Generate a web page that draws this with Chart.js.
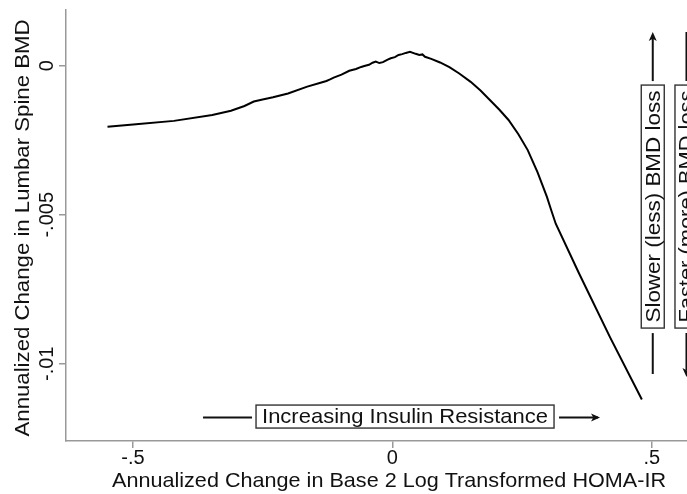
<!DOCTYPE html>
<html><head><meta charset="utf-8">
<script src="https://cdn.jsdelivr.net/npm/chart.js@4"></script>
<style>html,body{margin:0;padding:0;background:#fff}#wrap{width:687px;height:494px}</style>
</head><body><div id="wrap"><canvas id="c" width="687" height="494"></canvas></div>
<script>
const xValues = [-0.549,-0.494,-0.421,-0.347,-0.311,-0.285,-0.267,-0.250,-0.230,-0.201,-0.164,-0.140,-0.127,-0.120,-0.113,-0.098,-0.083,-0.070,-0.060,-0.054,-0.045,-0.038,-0.032,-0.025,-0.018,-0.010,-0.003,0.005,0.012,0.019,0.026,0.034,0.045,0.052,0.058,0.063,0.075,0.092,0.110,0.129,0.151,0.170,0.188,0.206,0.224,0.243,0.261,0.280,0.298,0.306,0.315,0.360,0.420,0.481];
const yValues = [-0.00205,-0.00196,-0.00185,-0.00165,-0.00151,-0.00135,-0.00120,-0.00113,-0.00106,-0.00093,-0.00070,-0.00058,-0.00051,-0.00046,-0.00040,-0.00030,-0.00017,-0.00011,-0.00004,-0.00001,0.00003,0.00010,0.00014,0.00009,0.00012,0.00020,0.00025,0.00029,0.00036,0.00039,0.00043,0.00047,0.00040,0.00036,0.00038,0.00030,0.00023,0.00011,-0.00005,-0.00026,-0.00054,-0.00083,-0.00115,-0.00147,-0.00182,-0.00230,-0.00283,-0.00358,-0.00440,-0.00483,-0.00530,-0.00697,-0.00912,-0.01120];
const xTickValues = [-0.5, 0, 0.5];
const xTickLabels = ['-.5', '0', '.5'];
const yTickValues = [0, -0.005, -0.01];
const yTickLabels = ['0', '-.005', '-.01'];
const xTitle = 'Annualized Change in Base 2 Log Transformed HOMA-IR';
const yTitle = 'Annualized Change in Lumbar Spine BMD';
const insulinLabel = 'Increasing Insulin Resistance';
const slowerLabel = 'Slower (less) BMD loss';
const fasterLabel = 'Faster (more) BMD loss';

const FONT = "'Liberation Sans', Arial, Helvetica, sans-serif";
const TXT = '#111';

function fitText(ctx, text, cx, cy, size, width, rot) {
  ctx.save();
  ctx.font = size + 'px ' + FONT;
  const w = ctx.measureText(text).width;
  ctx.translate(cx, cy);
  if (rot) ctx.rotate(rot);
  if (width) ctx.scale(width / w, 1);
  ctx.textAlign = 'center';
  ctx.textBaseline = 'middle';
  ctx.fillStyle = TXT;
  ctx.fillText(text, 0, 0);
  ctx.restore();
}
function line(ctx, x1, y1, x2, y2) {
  ctx.beginPath(); ctx.moveTo(x1, y1); ctx.lineTo(x2, y2); ctx.stroke();
}
function head(ctx, x, y, dx, dy) {
  const L = 9, W = 4;
  const px = -dy, py = dx;
  ctx.beginPath();
  ctx.moveTo(x, y);
  ctx.lineTo(x - dx * L + px * W, y - dy * L + py * W);
  ctx.lineTo(x - dx * L * 0.75, y - dy * L * 0.75);
  ctx.lineTo(x - dx * L - px * W, y - dy * L - py * W);
  ctx.closePath(); ctx.fill();
}

const labelsPlugin = {
  id: 'labels',
  afterDraw(chart) {
    const ctx = chart.ctx;
    const xs = chart.scales.x, ys = chart.scales.y;
    xTickValues.forEach((v, i) => fitText(ctx, xTickLabels[i], xs.getPixelForValue(v), 458, 20));
    yTickValues.forEach((v, i) => fitText(ctx, yTickLabels[i], 47, ys.getPixelForValue(v), 20, 0, -Math.PI / 2));
    fitText(ctx, xTitle, (112 + 666) / 2, 481, 21, 554);
    fitText(ctx, yTitle, 23, 228, 21, 417, -Math.PI / 2);

    ctx.save();
    ctx.strokeStyle = '#111'; ctx.fillStyle = '#111';
    const ix = xs.getPixelForValue(0.0245), iy = ys.getPixelForValue(-0.01177);
    const bw = 298, bh = 23;
    ctx.lineWidth = 1.4; ctx.strokeStyle = '#333';
    ctx.strokeRect(ix - bw / 2, iy - bh / 2, bw, bh);
    fitText(ctx, insulinLabel, ix, iy + 1, 21, 286);
    ctx.strokeStyle = '#111'; ctx.lineWidth = 2;
    line(ctx, ix - bw / 2 - 53, iy + 1, ix - bw / 2 - 4, iy + 1);
    line(ctx, ix + bw / 2 + 5, iy + 1, ix + bw / 2 + 44, iy + 1);
    head(ctx, ix + bw / 2 + 46, iy + 1, 1, 0);

    const vy = ys.getPixelForValue(-0.004725);
    const vh = 243, vw = 23;
    [[0.502, slowerLabel, true], [0.567, fasterLabel, false]].forEach(([xv, txt, up]) => {
      const vx = xs.getPixelForValue(xv);
      ctx.lineWidth = 1.4; ctx.strokeStyle = '#333';
      ctx.strokeRect(vx - vw / 2, vy - vh / 2, vw, vh);
      fitText(ctx, txt, vx + 1, vy, 21, 232, -Math.PI / 2);
      ctx.strokeStyle = '#111'; ctx.lineWidth = 2;
      const top = vy - vh / 2, bot = vy + vh / 2;
      if (up) {
        line(ctx, vx, top - 4, vx, 38);
        head(ctx, vx, 32, 0, -1);
        line(ctx, vx, bot + 5, vx, 374);
      } else {
        line(ctx, vx, top - 4, vx, 32);
        line(ctx, vx, bot + 5, vx, 370);
        head(ctx, vx, 377, 0, 1);
      }
    });
    ctx.restore();
  }
};

new Chart(document.getElementById('c'), {
  type: 'line',
  data: {
    datasets: [{
      data: xValues.map((x, i) => ({ x: x, y: yValues[i] })),
      borderColor: '#000',
      borderWidth: 2,
      pointRadius: 0,
      tension: 0,
      fill: false
    }]
  },
  options: {
    responsive: false,
    devicePixelRatio: 1,
    animation: false,
    layout: { padding: { top: 10, right: 0, left: 0, bottom: 0 } },
    plugins: { legend: { display: false }, tooltip: { enabled: false } },
    scales: {
      x: {
        type: 'linear', min: -0.629, max: 0.568,
        afterBuildTicks: s => { s.ticks = xTickValues.map(v => ({ value: v })); },
        afterFit: s => { s.height = 53; },
        ticks: { display: false },
        grid: { drawOnChartArea: false, drawTicks: true, tickLength: 7, color: '#999', lineWidth: 1.5 },
        border: { color: '#999', width: 1.5 }
      },
      y: {
        type: 'linear', min: -0.01259, max: 0.00187,
        afterBuildTicks: s => { s.ticks = yTickValues.map(v => ({ value: v })); },
        afterFit: s => { s.width = 66; },
        ticks: { display: false },
        grid: { drawOnChartArea: false, drawTicks: true, tickLength: 7, color: '#999', lineWidth: 1.5 },
        border: { color: '#999', width: 1.5 }
      }
    }
  },
  plugins: [labelsPlugin]
});
</script>
</body></html>
